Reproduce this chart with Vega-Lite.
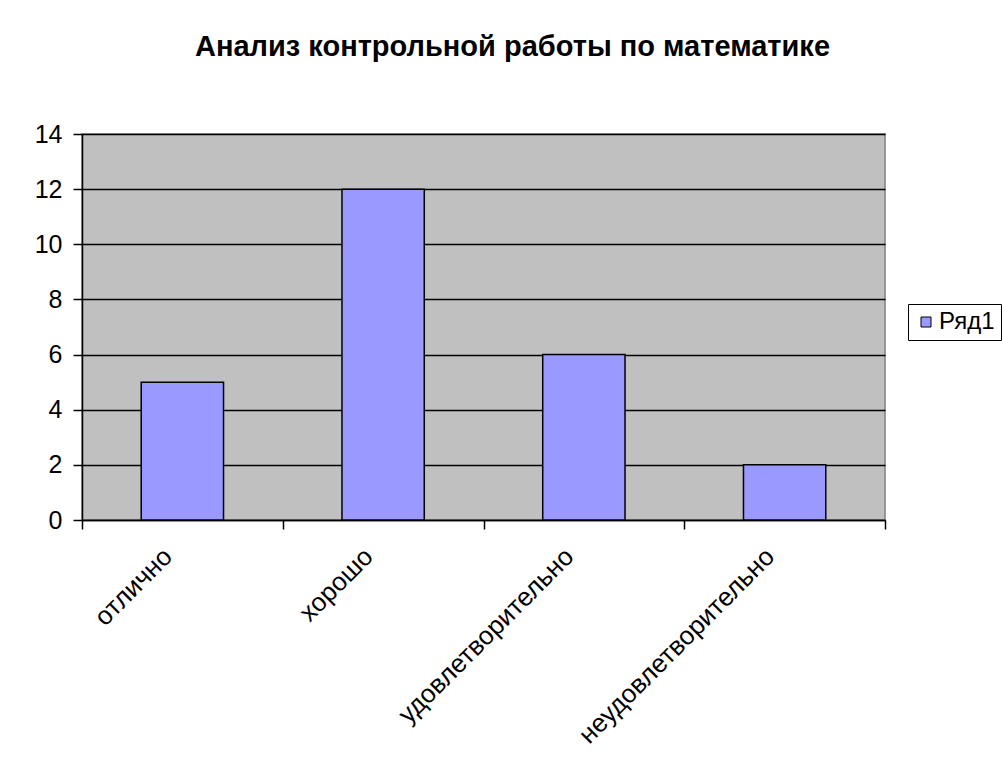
{
  "$schema": "https://vega.github.io/schema/vega-lite/v6.json",
  "width": 803,
  "height": 386,
  "autosize": {"type": "none"},
  "padding": {"left": 82, "top": 134, "right": 117, "bottom": 251},
  "background": "white",
  "title": {
    "text": "Анализ контрольной работы по математике",
    "font": "Liberation Sans",
    "fontSize": 29,
    "fontWeight": "bold",
    "color": "black",
    "anchor": "middle",
    "baseline": "alphabetic",
    "offset": 37,
    "dx": 29
  },
  "data": {
    "values": [
      {"category": "отлично", "value": 5, "series": "Ряд1"},
      {"category": "хорошо", "value": 12, "series": "Ряд1"},
      {"category": "удовлетворительно", "value": 6, "series": "Ряд1"},
      {"category": "неудовлетворительно", "value": 2, "series": "Ряд1"}
    ]
  },
  "mark": {"type": "bar", "width": {"band": 0.41}, "stroke": "black", "strokeWidth": 1.5},
  "encoding": {
    "x": {
      "field": "category",
      "type": "nominal",
      "sort": null,
      "scale": {"paddingInner": 0, "paddingOuter": 0},
      "axis": {
        "title": null,
        "tickBand": "extent",
        "labelAngle": -45,
        "labelFont": "Liberation Sans",
        "labelFontSize": 26,
        "labelColor": "black",
        "labelLimit": 0,
        "labelOffset": -24,
        "labelPadding": 14,
        "domainColor": "black",
        "domainWidth": 1.5,
        "tickColor": "black",
        "tickWidth": 1.5,
        "tickSize": 9,
        "grid": false
      }
    },
    "y": {
      "field": "value",
      "type": "quantitative",
      "scale": {"domain": [0, 14]},
      "axis": {
        "title": null,
        "values": [0, 2, 4, 6, 8, 10, 12, 14],
        "labelFont": "Liberation Sans",
        "labelFontSize": 25,
        "labelColor": "black",
        "labelPadding": 11,
        "domainColor": "black",
        "domainWidth": 1.5,
        "tickColor": "black",
        "tickWidth": 1.5,
        "tickSize": 9,
        "grid": true,
        "gridColor": "black",
        "gridWidth": 1.5,
        "gridOpacity": 1
      }
    },
    "fill": {
      "field": "series",
      "type": "nominal",
      "scale": {"range": ["#9999FF"]},
      "legend": {
        "title": null,
        "orient": "none",
        "legendX": 826,
        "legendY": 170,
        "strokeColor": "black",
        "padding": 6,
        "symbolType": "square",
        "symbolSize": 100,
        "symbolStrokeColor": "black",
        "symbolStrokeWidth": 1,
        "labelFont": "Liberation Sans",
        "labelFontSize": 24,
        "labelColor": "black",
        "labelOffset": 1
      }
    }
  },
  "config": {
    "view": {"fill": "#C0C0C0", "stroke": "#808080", "strokeWidth": 1.5}
  }
}
